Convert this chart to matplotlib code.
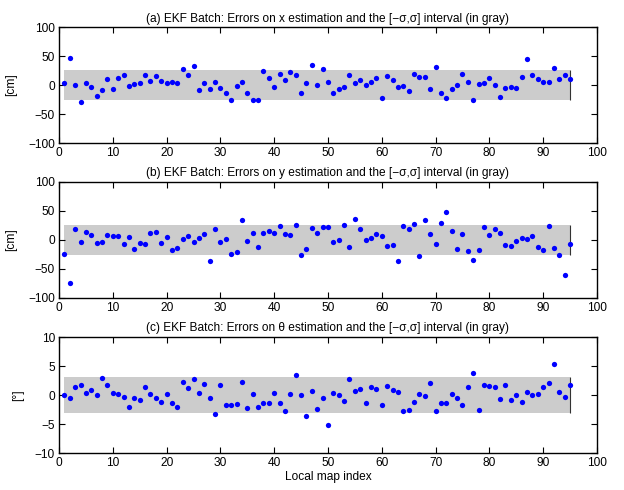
import numpy as np
import matplotlib.pyplot as plt

plt.rcParams['font.family'] = ['Liberation Sans', 'DejaVu Sans']
plt.rcParams['font.size'] = 8.6

# local map index
idx = np.arange(1, 96)

# errors on x [cm]
err_x = [3, 46.5, 0.5, -29, 3, -3, -18, -9, 11, -7.5,
         12.6, 18, -2, 2, 3.5, 16.7, 7, 15.5, 7.5, 3,
         5, 3.5, 28, 17, 33, -8.6, 3.5, -6, 6, -5,
         -13, -26, -2, 5, -14, -25, -25, 23.5, 12.6, -3.5,
         19, 9, 22, 17, -14, 3.5, 34.5, -0.5, 27.5, 5,
         -14, -6, -4, 18, 3.5, 8, -0.5, 4.6, 12, -22,
         15.5, 8.6, -3, -1, -10, 19, 14, 14, -6, 31,
         -13, -23, -7, 0, 19, 5, -26, 1.7, 3.5, 13,
         1, -20, -5, -3.5, -5, 14, 45, 17, 10, 5.7,
         5, 29, 11, 16.7, 11]

# errors on y [cm]
err_y = [-24.7, -73.6, 19.5, -3.4, 13, 9, -4.6, -4, 8, 7.5,
         7.5, -6.3, 5, -15, -4.6, -7.5, 11.5, 14.4, -5.7, 4.6,
         -16.7, -14.4, 2.3, 6.3, -3.4, 2.9, 10.3, -35.6, 19, -2.9,
         1.7, -24.7, -21, 34.5, -1.7, 12, -13, 11.5, 15.5, 12,
         23.6, 10.3, 9.2, 25.9, -25.3, -16, 21, 12, 21.5, 22.2,
         -3, 0.6, 25, -13, 36, 18.4, 0.6, 3.4, 11, 7.5,
         -11, -8, -35.6, 23.6, 19, 27, -27.6, 34, 10.3, -6.9,
         28.7, 47.7, 15, -15.5, 11, -18.4, -35, -16.7, 21.8, 8,
         18.4, 12.6, -9.2, -10.3, -2.3, 3.4, 1.1, 6.3, -12, -17,
         24.7, -14.4, -25.9, -60, -7.5]

# errors on theta [deg]
err_t = [-0.06, -0.6, 1.3, 1.8, 0.3, 0.8, 0, 3.0, 1.7, 0.35,
         0.1, -0.3, -2.1, -0.5, -0.9, 1.4, 0.2, -0.6, -1.15, 0.1,
         -1.3, -2.0, 2.2, 1.2, 2.8, 0.3, 1.9, -0.5, -3.3, 1.7,
         -1.7, -1.8, -1.55, 2.25, -2.3, 0.2, -2.1, -1.4, -1.3, 0.4,
         -1.4, -2.8, 0.2, 3.4, 0.06, -3.7, 0.7, -2.4, -0.6, -5.2,
         0.3, 0, -1.0, 2.8, 0.75, 1.0, -1.3, 1.4, 1.0, -1.7,
         1.6, 0.8, 0.5, -2.8, -2.5, -1.2, 0.2, -0.2, 2.0, -2.7,
         -1.4, -1.3, 0.2, -0.6, -1.8, 1.4, 3.8, -2.6, 1.7, 1.5,
         1.3, -0.75, 1.7, -0.9, 0.06, -1.15, 0.5, -0.06, 0.1, 1.4,
         2.1, 5.3, 0.6, -0.4, 1.8]

sigma_x = 25.5
sigma_y = 25.5
sigma_t = 3.05

titles = ["(a) EKF Batch: Errors on x estimation and the [\u2212\u03c3,\u03c3] interval (in gray)",
          "(b) EKF Batch: Errors on y estimation and the [\u2212\u03c3,\u03c3] interval (in gray)",
          "(c) EKF Batch: Errors on \u03b8 estimation and the [\u2212\u03c3,\u03c3] interval (in gray)"]
ylabels = ["[cm]", "[cm]", "[\u00b0]"]
limits = [100, 100, 10]
steps = [50, 50, 5]

fig = plt.figure(figsize=(6.24, 4.90), dpi=100)
bottoms = [0.708, 0.392, 0.0755]

for i, (err, sig) in enumerate([(err_x, sigma_x), (err_y, sigma_y), (err_t, sigma_t)]):
    ax = fig.add_axes([0.0946, bottoms[i], 0.862, 0.2367])
    ax.fill_between(idx, -sig, sig, color='#cccccc', lw=0, zorder=1)
    ax.vlines(idx[-1], -sig, sig, color='#333333', lw=0.8, zorder=2)
    ax.plot(idx, err, 'o', color='#0000ff', ms=3.8, mec='none', zorder=3)
    lim = limits[i]
    ax.set_xlim(0, 100)
    ax.set_ylim(-lim, lim)
    ax.set_xticks(np.arange(0, 101, 10))
    ax.set_yticks(np.arange(-lim, lim + 1, steps[i]))
    ax.set_yticklabels([str(v).replace('-', '\u2212') for v in np.arange(-lim, lim + 1, steps[i])])
    ax.tick_params(direction='in', top=True, right=True, length=4, width=0.8, pad=3)
    for s in ax.spines.values():
        s.set_linewidth(1.0)
    ax.set_title(titles[i], fontsize=8.6, pad=4)
    ax.set_ylabel(ylabels[i], labelpad=8)
    if i == 2:
        ax.set_xlabel("Local map index", labelpad=1)

fig.savefig("out.png", dpi=100)
